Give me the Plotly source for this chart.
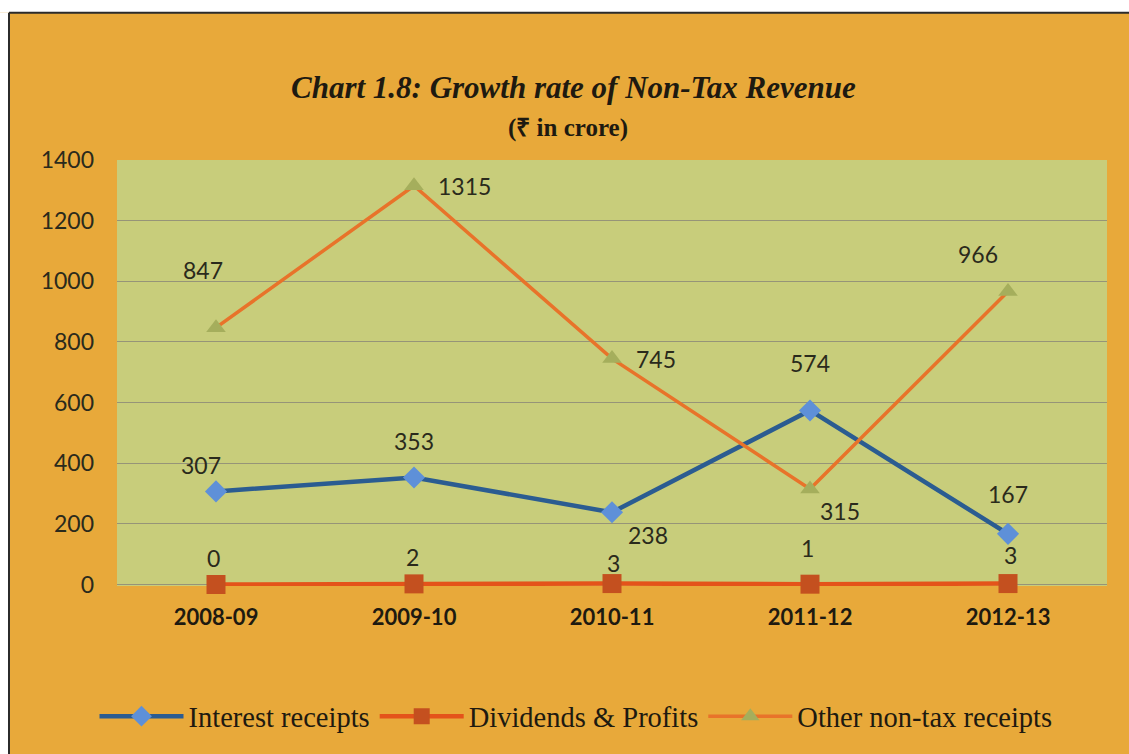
import plotly.graph_objects as go

# Financial years and non-tax revenue components (₹ in crore)
years = ["2008-09", "2009-10", "2010-11", "2011-12", "2012-13"]
interest = [307, 353, 238, 574, 167]
dividends = [0, 2, 3, 1, 3]
other = [847, 1315, 745, 315, 966]

series_names = ["Interest receipts", "Dividends & Profits", "Other non-tax receipts"]
y_ticks = [0, 200, 400, 600, 800, 1000, 1200, 1400]

# Pixel offsets of the value labels relative to each point
interest_off = [(-15, 26), (0, 36), (36, -23), (0, 47), (0, 40)]
dividends_off = [(-3, 26), (-2, 27), (1, 21), (-3, 36), (2, 29)]
other_off = [(-13, 58), (50, 0), (44, 0), (30, -22), (-30, 38)]

W, H = 1129, 754
Y_MIN, Y_MAX = -5, 1400          # small pad below zero so the zero-level line is not clipped
PX_PER_UNIT = 424 / 1400
ZERO_PX, TOP_PX = 584, 160
L, R = 117, 22
T = TOP_PX
B = H - (ZERO_PX - Y_MIN * PX_PER_UNIT)
PW, PH = W - L - R, H - T - B

ORANGE = "#E8A93A"
PLOT_BG = "#C8CD7B"
GRID = "#969478"
TEXT = "#2A2A1C"
LABEL_FONT = "Lato"


def px_x(px):
    return (px - L) / PW


def px_y(py):
    return (H - B - py) / PH


fig = go.Figure()

fig.add_trace(go.Scatter(
    x=years, y=interest, name=series_names[0], mode="lines+markers",
    line=dict(color="#2B5C91", width=4.5),
    marker=dict(symbol="diamond", size=17, color="#5E90D8", line=dict(width=0)),
))
fig.add_trace(go.Scatter(
    x=years, y=dividends, name=series_names[1], mode="lines+markers",
    line=dict(color="#E4531A", width=4.5),
    marker=dict(symbol="square", size=19, color="#C4501F", line=dict(width=0)),
    cliponaxis=False,
))
fig.add_trace(go.Scatter(
    x=years, y=other, name=series_names[2], mode="lines+markers",
    line=dict(color="#E8732A", width=3.5),
    marker=dict(symbol="triangle-up", size=17, color="#A5AE5C", line=dict(width=0)),
))

annotations = []
for vals, offs in ((interest, interest_off), (dividends, dividends_off), (other, other_off)):
    for yr, v, (dx, dy) in zip(years, vals, offs):
        annotations.append(dict(
            x=yr, y=v, xref="x", yref="y", text=str(v), showarrow=False,
            xshift=dx, yshift=dy,
            font=dict(family=LABEL_FONT, size=23, color=TEXT),
        ))

annotations.append(dict(
    x=px_x(573), y=px_y(88), xref="paper", yref="paper",
    text="<b><i>Chart 1.8: Growth rate of Non-Tax Revenue</i></b>",
    showarrow=False, xanchor="center", yanchor="middle",
    font=dict(family="Liberation Serif", size=31, color="#1E1A10"),
))
annotations.append(dict(
    x=px_x(568), y=px_y(128), xref="paper", yref="paper",
    text="<b>(₹ in crore)</b>",
    showarrow=False, xanchor="center", yanchor="middle",
    font=dict(family="Liberation Serif", size=25, color="#1E1A10"),
))

shapes = [
    # white page margin above and left of the chart frame
    dict(type="rect", xref="paper", yref="paper", layer="above",
         x0=px_x(-20), x1=px_x(W + 20), y0=px_y(13), y1=px_y(-20),
         fillcolor="white", line=dict(width=0)),
    dict(type="rect", xref="paper", yref="paper", layer="above",
         x0=px_x(-20), x1=px_x(9), y0=px_y(H + 20), y1=px_y(13),
         fillcolor="white", line=dict(width=0)),
    # chart frame edges
    dict(type="line", xref="paper", yref="paper", layer="above",
         x0=px_x(9), x1=px_x(W + 20), y0=px_y(13), y1=px_y(13),
         line=dict(color="#2B2B2B", width=2)),
    dict(type="line", xref="paper", yref="paper", layer="above",
         x0=px_x(9), x1=px_x(9), y0=px_y(13), y1=px_y(H + 20),
         line=dict(color="#2B2B2B", width=2)),
]

fig.update_layout(
    width=W, height=H,
    margin=dict(l=L, r=R, t=T, b=B),
    paper_bgcolor=ORANGE,
    plot_bgcolor=PLOT_BG,
    showlegend=True,
    legend=dict(
        orientation="h", x=px_x(576), y=px_y(716),
        xanchor="center", yanchor="middle",
        font=dict(family="Liberation Serif", size=28.5, color="#1E1A10"),
        bgcolor="rgba(0,0,0,0)", itemwidth=84,
    ),
    annotations=annotations,
    shapes=shapes,
)

fig.update_xaxes(
    type="category", range=[-0.5, 4.5], showgrid=False, zeroline=False,
    showline=False, ticks="", ticklabelstandoff=16,
    tickfont=dict(family=LABEL_FONT, size=22, color="#1E1A10", weight="bold"),
)
fig.update_yaxes(
    range=[Y_MIN, Y_MAX], tickvals=y_ticks, showgrid=True, gridcolor=GRID, gridwidth=1.3,
    zeroline=False, showline=False, ticks="", ticklabelstandoff=22,
    tickfont=dict(family=LABEL_FONT, size=23, color=TEXT),
)

fig.write_html("out.html")
